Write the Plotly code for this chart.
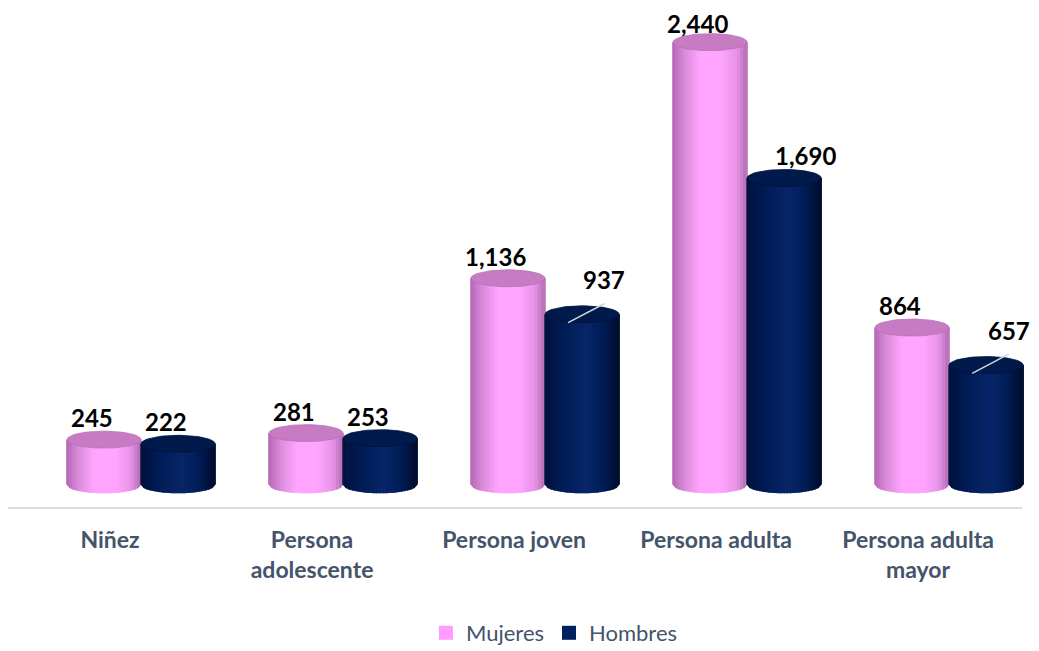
"""Cylinder-style grouped bars: Mujeres vs Hombres by life stage."""

from __future__ import annotations

import numpy as np
import plotly.graph_objects as go

categories = ["Niñez", "Persona adolescente", "Persona joven", "Persona adulta", "Persona adulta mayor"]
tick_labels = ["Niñez", "Persona<br>adolescente", "Persona joven", "Persona adulta", "Persona adulta<br>mayor"]
mujeres = [245, 281, 1136, 2440, 864]
hombres = [222, 253, 937, 1690, 657]

# geometry (px per category / px per unit on y)
PX_X = 202.0
PX_Y = 0.1811
RX = 37.0 / PX_X
RY = 8.5 / PX_Y
N_STRIPS = 24

SERIES = [
    dict(name="Mujeres", values=mujeres, offset=-0.03, legend="#ff9cff", top="#c77bc2", rim="#b86fb4",
         stops=[(-1.0, "#b466b4"), (-0.65, "#dc8cdc"), (-0.25, "#ffa4ff"), (0.35, "#ffa4ff"),
                (0.75, "#e692e6"), (1.0, "#b46eb4")]),
    dict(name="Hombres", values=hombres, offset=0.337, legend="#002060", top="#001a4c", rim="#00123a",
         stops=[(-1.0, "#00123c"), (-0.5, "#001c56"), (0.15, "#082668"), (0.6, "#001c56"),
                (1.0, "#000c2c")]),
]


def hex_rgb(h):
    h = h.lstrip("#")
    return np.array([int(h[i:i + 2], 16) for i in (0, 2, 4)], dtype=float)


def shade(stops, u):
    us = [s[0] for s in stops]
    cols = np.array([hex_rgb(s[1]) for s in stops])
    rgb = [np.interp(u, us, cols[:, k]) for k in range(3)]
    return "rgb(%d,%d,%d)" % tuple(int(round(c)) for c in rgb)


def arc(u):
    return np.sqrt(np.clip(1 - u * u, 0, 1))


fig = go.Figure()
edges = np.linspace(-1, 1, N_STRIPS + 1)
theta = np.linspace(0, 2 * np.pi, 73)

for s in SERIES:
    centers = [i + s["offset"] for i in range(len(categories))]
    # cylinder body as vertical strips
    for j in range(N_STRIPS):
        u0, u1 = edges[j], edges[j + 1]
        xs, ys = [], []
        for c, v in zip(centers, s["values"]):
            x0, x1 = c + u0 * RX, c + u1 * RX
            xs += [x0, x1, x1, x0, x0, None]
            ys += [v - RY * arc(u0), v - RY * arc(u1), -RY * arc(u1), -RY * arc(u0), v - RY * arc(u0), None]
        col = shade(s["stops"], (u0 + u1) / 2)
        fig.add_trace(go.Scatter(x=xs, y=ys, mode="lines", fill="toself", fillcolor=col,
                                 line=dict(color=col, width=1.6), hoverinfo="skip", showlegend=False))
    # top ellipse
    xs, ys = [], []
    for c, v in zip(centers, s["values"]):
        xs += list(c + RX * np.cos(theta)) + [None]
        ys += list(v + RY * np.sin(theta)) + [None]
    fig.add_trace(go.Scatter(x=xs, y=ys, mode="lines", fill="toself", fillcolor=s["top"],
                             line=dict(color=s["rim"], width=0.8), hoverinfo="skip", showlegend=False))

# legend entries
for s in SERIES:
    fig.add_trace(go.Scatter(x=[None], y=[None], mode="markers", name=s["name"],
                             marker=dict(symbol="square", size=14, color=s["legend"])))

# value labels (pixel offsets relative to the top of each cylinder)
label_shift = {("Mujeres", 3): (-13, -3), ("Hombres", 3): (21, 0),
               ("Hombres", 2): (22, 13), ("Hombres", 4): (23, 13)}
leaders = [("Hombres", 2), ("Hombres", 4)]
annotations = []
for s in SERIES:
    for i, v in enumerate(s["values"]):
        c = i + s["offset"]
        dx, dy = label_shift.get((s["name"], i), (-12, 0))
        annotations.append(dict(x=c + dx / PX_X, y=v + RY, yanchor="bottom", yshift=dy - 3,
                                text=f"<b>{v:,}</b>", showarrow=False,
                                font=dict(family="Lato", size=24, color="#000000")))
        if (s["name"], i) in leaders:
            annotations.append(dict(x=c - 14 / PX_X, y=v - 46, text=" ", showarrow=True,
                                    arrowhead=0, arrowwidth=1.6, arrowcolor="#d0d4dc",
                                    ax=38, ay=-20, font=dict(size=1)))

# the page body adds an 8px offset, so the figure is sized to fit the window
fig.update_layout(
    width=1031,
    height=643,
    margin=dict(l=0, r=8, t=0, b=143),
    paper_bgcolor="white",
    plot_bgcolor="white",
    showlegend=True,
    legend=dict(orientation="h", xref="container", yref="container", x=0.53, y=0.028,
                xanchor="center", yanchor="middle",
                font=dict(family="Lato", size=22, color="#44546a")),
    xaxis=dict(range=[-0.505, 4.559], tickvals=list(range(len(categories))), ticktext=tick_labels,
               showgrid=False, zeroline=False, showline=False, ticks="", ticklabelstandoff=16,
               tickfont=dict(family="Lato", size=23, color="#44546a", weight="bold"),
               automargin=False, fixedrange=True),
    yaxis=dict(range=[-132.5, 2628.5], visible=False, fixedrange=True),
    shapes=[dict(type="line", xref="x", yref="paper", x0=-0.505, x1=4.515, y0=0, y1=0,
                 line=dict(color="#d9dce4", width=2), layer="below")],
    annotations=annotations,
)

fig.write_html("out.html")
